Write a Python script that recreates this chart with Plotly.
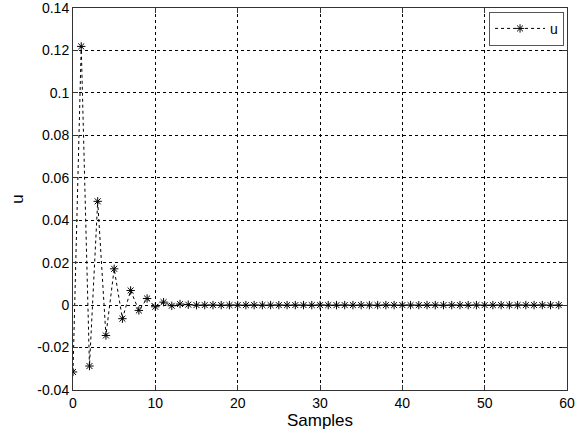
import plotly.graph_objects as go

samples = list(range(60))
u_head = [-0.0315, 0.1219, -0.0287, 0.0489, -0.0143, 0.0171, -0.0064, 0.0069,
          -0.0025, 0.0031, -0.0008, 0.0014, -0.0003, 0.0005, 0.0002]
u = u_head + [0.0] * (len(samples) - len(u_head))

x_ticks = [0, 10, 20, 30, 40, 50, 60]
y_ticks = [-0.04, -0.02, 0, 0.02, 0.04, 0.06, 0.08, 0.1, 0.12, 0.14]
y_labels = ["-0.04", "-0.02", "0", "0.02", "0.04", "0.06", "0.08", "0.1", "0.12", "0.14"]

fig = go.Figure()
fig.add_trace(go.Scatter(
    x=samples, y=u, mode="lines+markers", name="u",
    line=dict(color="black", width=1, dash="dot"),
    marker=dict(symbol="asterisk-open", size=7, color="black",
                line=dict(color="black", width=1)),
))

FONT = "Liberation Sans, Arial"
axis_common = dict(
    showline=True, linecolor="#333333", linewidth=1, mirror="ticks",
    ticks="inside", ticklen=5, tickcolor="#333333",
    showgrid=True, gridcolor="black", gridwidth=1, griddash="dot",
    zeroline=False, ticklabeloverflow="allow",
    tickfont=dict(family=FONT, size=14, color="black"),
)

fig.update_layout(
    width=587, height=434,
    margin=dict(l=73, r=20, t=8, b=44, autoexpand=False),
    paper_bgcolor="white", plot_bgcolor="white",
    font=dict(family=FONT, size=14, color="black"),
    xaxis=dict(range=[0, 60], tickvals=x_ticks, title=dict(text="Samples", standoff=4),
               automargin=False, **axis_common),
    yaxis=dict(range=[-0.04, 0.14], tickvals=y_ticks, ticktext=y_labels,
               title=dict(text="u", standoff=9), automargin=False, **axis_common),
    showlegend=True,
    legend=dict(x=0.994, y=0.99, xanchor="right", yanchor="top",
                bgcolor="white", bordercolor="#555555", borderwidth=1,
                itemwidth=50,
                font=dict(family=FONT, size=14, color="black")),
)

fig.write_html("out.html", config={"displayModeBar": False},
               post_script="document.body.style.margin='0';document.body.style.overflow='hidden';")
